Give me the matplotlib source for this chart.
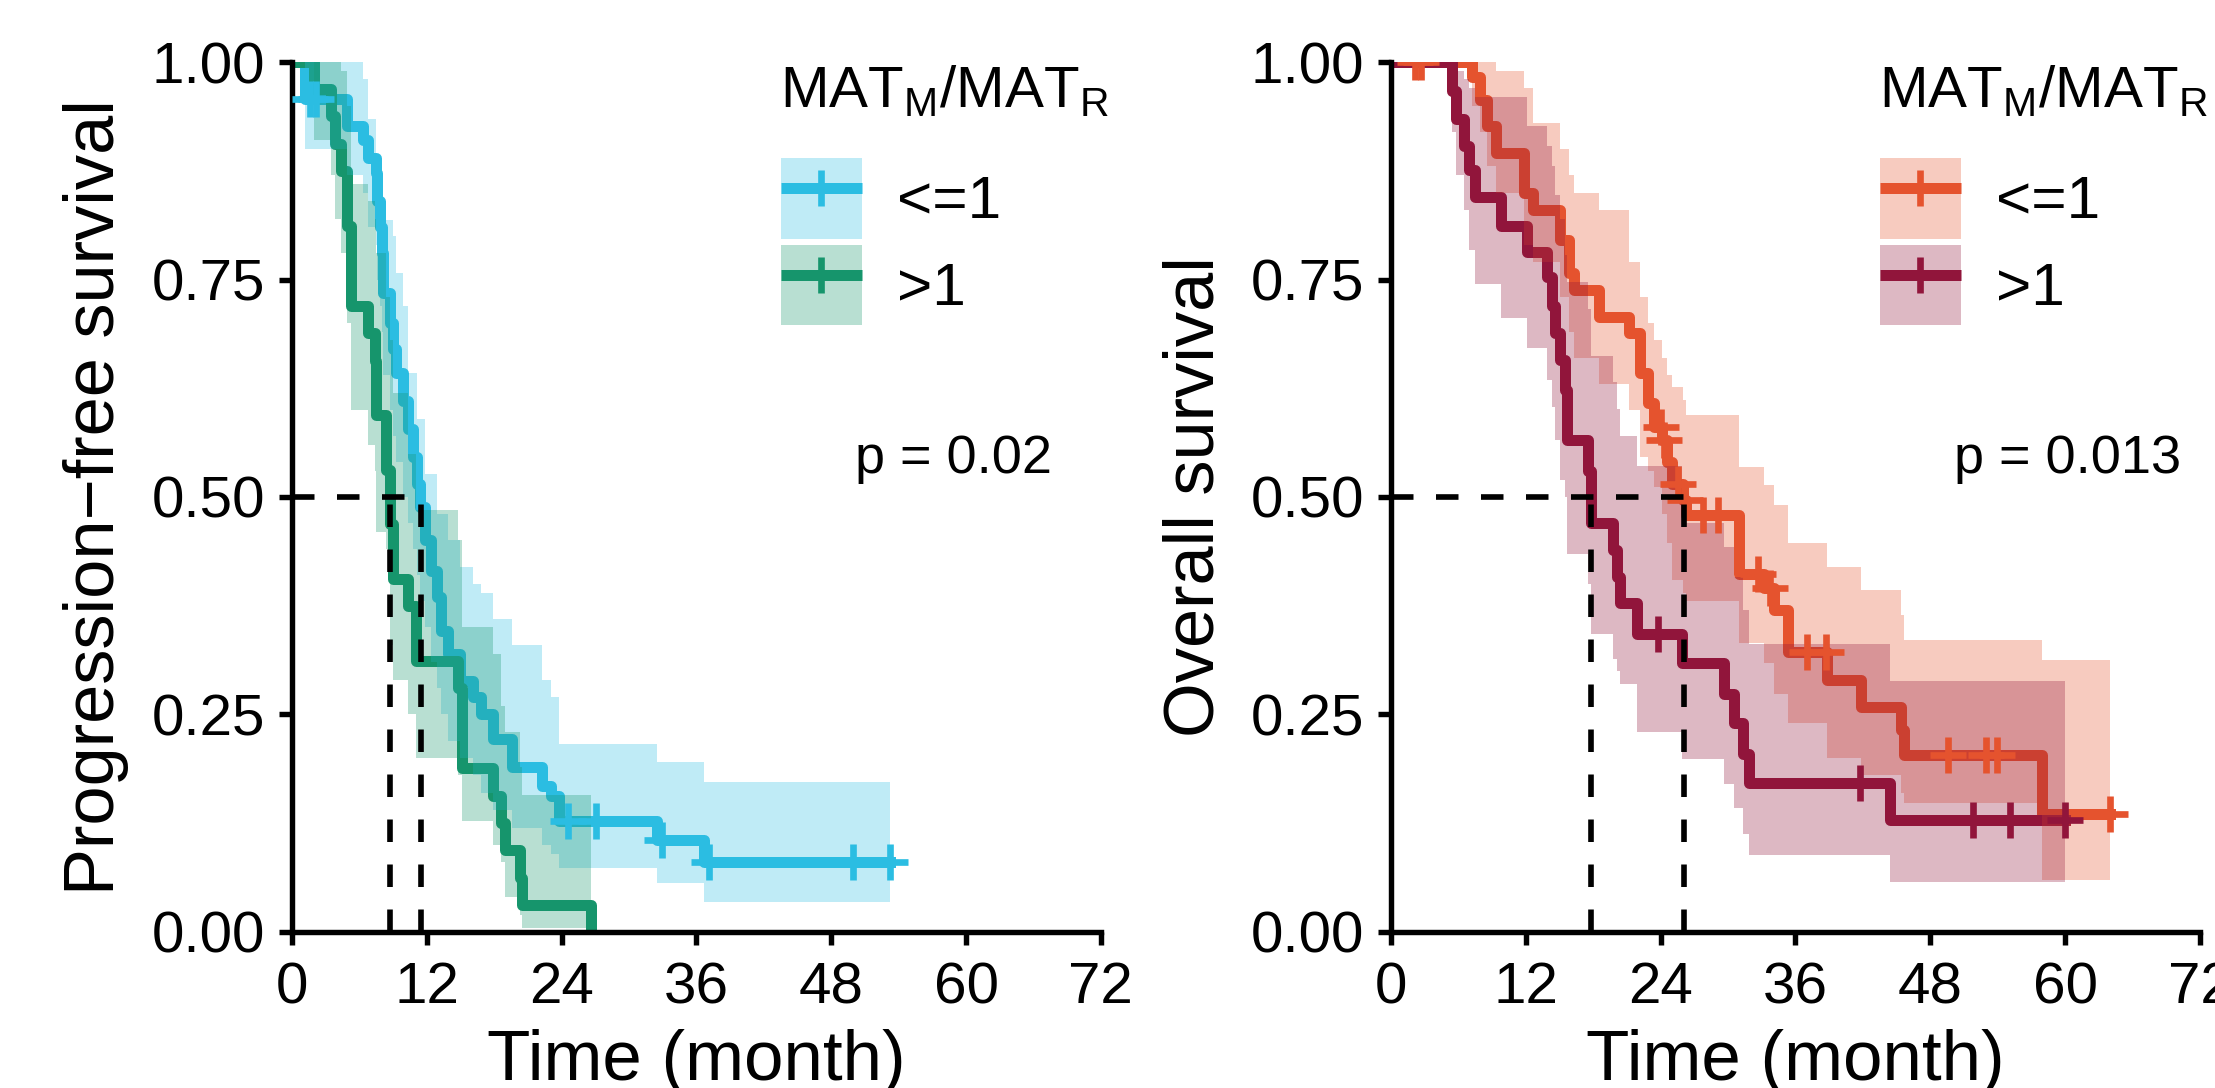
import numpy as np
import matplotlib
matplotlib.use("Agg")
import matplotlib.pyplot as plt
from matplotlib.lines import Line2D
from matplotlib.patches import Patch
from matplotlib.legend_handler import HandlerLine2D

plt.rcParams['font.family'] = ['Liberation Sans', 'DejaVu Sans']
plt.rcParams['mathtext.fontset'] = 'custom'
plt.rcParams['mathtext.rm'] = 'Liberation Sans'

# ---- progression-free survival, MAT_M/MAT_R <= 1 ----
pfs_low_t = [0, 1.2, 4.9, 6.3, 6.8, 7.5, 7.6, 7.8, 8.0, 8.1, 8.7, 9.0, 9.3, 9.9, 10.3, 10.8, 11.1, 11.4,
             11.8, 12.4, 12.9, 13.3, 13.85, 15.0, 16.1, 16.8, 17.9, 19.6, 22.3, 23.1, 23.8, 32.5, 36.7]
pfs_low_s = [1.0, 0.958, 0.926, 0.91, 0.89, 0.872, 0.84, 0.81, 0.78, 0.734, 0.70, 0.67, 0.642, 0.61, 0.578,
             0.546, 0.515, 0.488, 0.45, 0.415, 0.385, 0.346, 0.319, 0.288, 0.27, 0.25, 0.222, 0.19, 0.168,
             0.156, 0.128, 0.106, 0.08]
pfs_low_hi = [1.0, 1.0, 1.0, 0.98, 0.935, 0.88, 0.88, 0.845, 0.845, 0.818, 0.818, 0.80, 0.757, 0.719, 0.642,
              0.642, 0.59, 0.59, 0.527, 0.527, 0.48, 0.48, 0.45, 0.42, 0.40, 0.39, 0.36, 0.33, 0.29, 0.27,
              0.216, 0.195, 0.172]
pfs_low_lo = [1.0, 0.90, 0.87, 0.85, 0.81, 0.79, 0.75, 0.72, 0.69, 0.64, 0.60, 0.57, 0.54, 0.50, 0.47, 0.44,
              0.41, 0.38, 0.35, 0.31, 0.28, 0.25, 0.22, 0.20, 0.18, 0.16, 0.14, 0.12, 0.10, 0.09, 0.073,
              0.056, 0.035]
pfs_low_end = 53.2
pfs_low_cens = [1.6, 2.1, 24.6, 27.1, 32.9, 37.1, 49.9, 53.2]

# ---- progression-free survival, MAT_M/MAT_R > 1 ----
pfs_high_t = [0, 2.0, 3.5, 3.8, 4.4, 4.9, 5.3, 6.8, 7.4, 7.5, 8.4, 8.7, 9.0, 10.3, 11.0, 14.8, 15.1, 17.9,
              18.6, 19.0, 20.3, 20.5, 26.6]
pfs_high_s = [1.0, 0.969, 0.938, 0.906, 0.875, 0.812, 0.719, 0.688, 0.656, 0.594, 0.531, 0.469, 0.406,
              0.375, 0.312, 0.281, 0.188, 0.156, 0.125, 0.094, 0.062, 0.031, 0.0]
pfs_high_hi = [1.0, 1.0, 1.0, 1.0, 0.99, 0.95, 0.86, 0.84, 0.82, 0.78, 0.73, 0.68, 0.62, 0.55, 0.485, 0.45,
               0.35, 0.32, 0.26, 0.23, 0.19, 0.158, 0.158]
pfs_high_lo = [1.0, 0.91, 0.87, 0.82, 0.78, 0.70, 0.60, 0.56, 0.53, 0.46, 0.44, 0.33, 0.29, 0.25, 0.20, 0.18,
               0.128, 0.10, 0.08, 0.04, 0.02, 0.005, 0.005]
pfs_high_end = 26.6
pfs_high_cens = []

# ---- overall survival, MAT_M/MAT_R <= 1 ----
os_low_t = [0, 7.2, 7.9, 8.5, 9.3, 11.8, 12.6, 15.0, 15.8, 16.3, 18.5, 21.2, 22.2, 22.9, 23.4, 24.1, 24.6,
            25.0, 26.0, 26.3, 31.0, 33.2, 34.1, 35.3, 38.8, 41.8, 45.4, 45.7, 57.9]
os_low_s = [1.0, 0.983, 0.956, 0.926, 0.895, 0.849, 0.830, 0.795, 0.757, 0.738, 0.707, 0.688, 0.642, 0.608,
            0.581, 0.566, 0.54, 0.515, 0.497, 0.479, 0.412, 0.395, 0.37, 0.322, 0.29, 0.259, 0.232, 0.203,
            0.136]
os_low_hi = [1.0, 1.0, 1.0, 1.0, 0.99, 0.97, 0.93, 0.90, 0.87, 0.85, 0.83, 0.77, 0.73, 0.70, 0.68, 0.66,
             0.64, 0.627, 0.612, 0.594, 0.535, 0.514, 0.491, 0.447, 0.42, 0.393, 0.364, 0.336, 0.313]
os_low_lo = [1.0, 0.95, 0.92, 0.88, 0.85, 0.79, 0.77, 0.73, 0.69, 0.66, 0.63, 0.60, 0.546, 0.53, 0.512,
             0.48, 0.447, 0.405, 0.39, 0.381, 0.332, 0.309, 0.274, 0.24, 0.20, 0.18, 0.16, 0.148, 0.06]
os_low_end = 64.0
os_low_cens = [2.1, 2.7, 24.0, 24.3, 25.5, 26.15, 27.8, 29.1, 32.7, 33.7, 37.0, 38.7, 49.6, 53.0, 53.9, 64.0]

# ---- overall survival, MAT_M/MAT_R > 1 ----
os_high_t = [0, 5.4, 5.8, 6.5, 6.9, 7.5, 9.8, 12.1, 13.9, 14.3, 14.6, 15.0, 15.5, 15.7, 17.5, 17.8, 19.8,
             20.1, 20.4, 21.9, 25.9, 29.6, 30.5, 31.3, 31.9, 44.4]
os_high_s = [1.0, 0.967, 0.935, 0.903, 0.876, 0.845, 0.811, 0.782, 0.753, 0.72, 0.688, 0.657, 0.623, 0.565,
             0.53, 0.47, 0.439, 0.408, 0.378, 0.343, 0.309, 0.274, 0.24, 0.205, 0.171, 0.129]
os_high_hi = [1.0, 1.0, 0.99, 0.98, 0.97, 0.96, 0.96, 0.926, 0.903, 0.88, 0.847, 0.82, 0.778, 0.747, 0.716,
              0.662, 0.632, 0.601, 0.57, 0.536, 0.47, 0.442, 0.408, 0.37, 0.331, 0.289]
os_high_lo = [1.0, 0.92, 0.87, 0.83, 0.784, 0.745, 0.706, 0.671, 0.634, 0.603, 0.565, 0.52, 0.50, 0.435,
              0.40, 0.343, 0.314, 0.30, 0.285, 0.23, 0.199, 0.17, 0.142, 0.113, 0.088, 0.057]
os_high_end = 60.0
os_high_cens = [23.8, 41.7, 51.8, 55.1, 60.0]

pfs_medians = [8.7, 11.45]
os_medians = [17.8, 26.1]

group_labels = ['<=1', '>1']
legend_title = r'MAT$_\mathregular{M}$/MAT$_\mathregular{R}$'
pfs_colors = ['#2BBDE2', '#16956C']
os_colors = ['#E5532E', '#91153B']

LW = 2.64
MS = 8.6
MEW = 1.6


def draw_panel(ax, groups, colors, medians, ylabel, ptext):
    for (t, s, lo, hi, end, cens), c in zip(groups, colors):
        x = t + [end]
        ax.step(x, s + [s[-1]], where='post', color=c, lw=LW, zorder=2)
        ax.fill_between(x, lo + [lo[-1]], hi + [hi[-1]], step='post', color=c, alpha=0.3, lw=0, zorder=3)
        if cens:
            idx = np.searchsorted(t, cens, side='right') - 1
            ax.plot(cens, np.array(s)[idx], ls='none', marker='+', ms=MS, mew=MEW, color=c, zorder=4)

    dash = dict(color='black', lw=1.35, ls=(0, (4, 4)), zorder=5)
    ax.plot([0, max(medians)], [0.5, 0.5], **dash)
    for m in medians:
        ax.plot([m, m], [0, 0.5], **dash)

    ax.set_xlim(0, 72)
    ax.set_ylim(0, 1)
    ax.set_xticks(range(0, 73, 12))
    ax.set_yticks([0, 0.25, 0.5, 0.75, 1.0])
    ax.set_yticklabels(['0.00', '0.25', '0.50', '0.75', '1.00'])
    for side in ['top', 'right']:
        ax.spines[side].set_visible(False)
    for side in ['left', 'bottom']:
        ax.spines[side].set_linewidth(1.3)
    ax.tick_params(length=3.2, width=1.3, labelsize=14, colors='black')
    ax.tick_params(axis='x', pad=3.8)
    ax.tick_params(axis='y', pad=3.2)

    ax.set_xlabel('Time (month)', fontsize=17, va='baseline')
    ax.xaxis.set_label_coords(0.5, -0.170)
    ax.set_ylabel(ylabel, fontsize=16.9)
    ax.yaxis.set_label_coords(-0.201, 0.5)

    ax.text(0.603, 0.948, legend_title, transform=ax.transAxes, fontsize=14, va='baseline', ha='left')
    handles = [(Patch(facecolor=c, alpha=0.3, lw=0),
                Line2D([], [], color=c, lw=LW, marker='+', ms=MS, mew=MEW, solid_capstyle='butt'))
               for c in colors]
    ax.legend(handles, group_labels, loc='upper left', bbox_to_anchor=(0.6044, 0.8897), frameon=False,
              fontsize=14.5, borderpad=0, borderaxespad=0, handlelength=1.34, handleheight=1.678,
              handletextpad=0.58, labelspacing=0.099,
              handler_map={Line2D: HandlerLine2D(xpad=0.17)})
    ax.text(0.696, 0.5276, ptext, transform=ax.transAxes, fontsize=13, va='baseline', ha='left')


fig = plt.figure(figsize=(2215 / 300, 1088 / 300), dpi=300)
ax1 = fig.add_axes([0.1318, 0.1434, 0.3652, 0.7996])
ax2 = fig.add_axes([0.6280, 0.1434, 0.3652, 0.7996])

draw_panel(ax1,
           [(pfs_low_t, pfs_low_s, pfs_low_lo, pfs_low_hi, pfs_low_end, pfs_low_cens),
            (pfs_high_t, pfs_high_s, pfs_high_lo, pfs_high_hi, pfs_high_end, pfs_high_cens)],
           pfs_colors, pfs_medians, 'Progression\u2212free survival', 'p = 0.02')
draw_panel(ax2,
           [(os_low_t, os_low_s, os_low_lo, os_low_hi, os_low_end, os_low_cens),
            (os_high_t, os_high_s, os_high_lo, os_high_hi, os_high_end, os_high_cens)],
           os_colors, os_medians, 'Overall survival', 'p = 0.013')

fig.savefig('out.png', dpi=300)
